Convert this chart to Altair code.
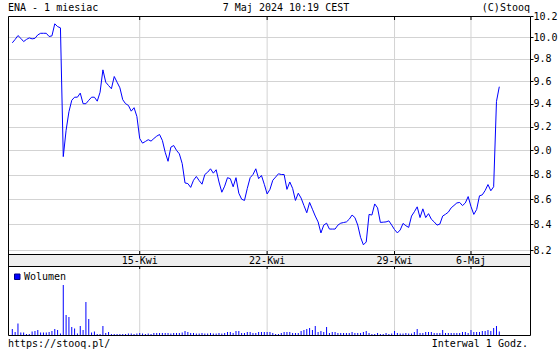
import altair as alt
import pandas as pd

# ---- data (hourly bars, index = bar number) ----
price = [
    9.948, 9.98, 10.016, 9.99, 9.96, 9.98, 9.994, 9.985, 9.99, 10.022,
    10.037, 10.037, 10.037, 10.007, 10.013, 10.126, 10.10, 10.088, 8.948, 9.17,
    9.33, 9.43, 9.457, 9.457, 9.493, 9.40, 9.40, 9.43, 9.457, 9.457,
    9.422, 9.501, 9.701, 9.59, 9.56, 9.532, 9.641, 9.59, 9.54, 9.435,
    9.40, 9.385, 9.335, 9.365, 9.289, 9.10, 9.061, 9.075, 9.09, 9.078,
    9.10, 9.12, 9.134, 9.084, 8.984, 8.909, 9.027, 9.041, 9.00, 8.971,
    8.89, 8.731, 8.726, 8.695, 8.753, 8.784, 8.75, 8.721, 8.80, 8.819,
    8.847, 8.811, 8.839, 8.739, 8.656, 8.705, 8.774, 8.766, 8.70, 8.774,
    8.648, 8.60, 8.59, 8.687, 8.774, 8.80, 8.847, 8.766, 8.792, 8.72,
    8.642, 8.679, 8.753, 8.779, 8.806, 8.80, 8.80, 8.679, 8.739, 8.687,
    8.59, 8.648, 8.609, 8.549, 8.492, 8.574, 8.52, 8.466, 8.42, 8.334,
    8.395, 8.41, 8.364, 8.364, 8.364, 8.395, 8.41, 8.415, 8.42, 8.441,
    8.474, 8.454, 8.395, 8.30, 8.242, 8.264, 8.479, 8.474, 8.562, 8.531,
    8.416, 8.418, 8.42, 8.428, 8.395, 8.36, 8.334, 8.357, 8.408, 8.39,
    8.377, 8.466, 8.50, 8.539, 8.454, 8.523, 8.454, 8.485, 8.441, 8.42,
    8.395, 8.403, 8.466, 8.48, 8.497, 8.531, 8.55, 8.57, 8.574, 8.549,
    8.57, 8.621, 8.541, 8.479, 8.518, 8.627, 8.635, 8.67, 8.718, 8.668,
    8.70, 9.42, 9.55,
]

volume = [
    6, 3, 11.5, 2.5, 2.5, 1, 1, 3.5, 4, 5,
    2.5, 2.5, 2.5, 3, 4, 6, 5, 1.5, 50, 20,
    18, 8, 6.5, 1.5, 9, 5, 33, 16, 2.5, 3.5,
    1, 1, 9, 2, 3, 1, 1, 1, 1, 1,
    1, 1.5, 1.5, 1, 1.5, 2, 1.5, 1, 1.5, 1,
    2, 2, 2, 2, 2, 2, 1.5, 2, 2, 2,
    2.5, 4, 3, 2, 2, 1.5, 1.5, 2, 1.5, 1.5,
    2, 1.5, 1.5, 2, 1.5, 2, 3, 3, 2, 4,
    4, 2, 2, 3, 3, 2, 2, 3, 3, 3,
    3, 3, 2, 1, 1, 2, 3, 3, 3, 2,
    2, 2, 4, 5, 6, 7, 5, 9, 3, 4,
    3, 8, 2, 3, 3, 2, 2, 2, 2, 2,
    3, 2, 2, 2, 3, 4, 2, 1, 1, 2,
    1, 1, 2, 1, 1.5, 4, 2, 1.5, 1.5, 2,
    1.5, 1.5, 3, 6, 2, 2, 3, 3, 3, 2,
    2, 2, 5, 2, 2, 2, 2, 2, 2, 3,
    3, 2, 5, 3, 3, 3, 4, 4, 5, 4,
    7, 9, 3.5,
]

day_index = [45, 90, 135, 162]
day_labels = ["15-Kwi", "22-Kwi", "29-Kwi", "6-Maj"]
price_ticks = [8.2, 8.4, 8.6, 8.8, 9.0, 9.2, 9.4, 9.6, 9.8, 10.0, 10.2]

title_left = "ENA - 1 miesiac"
title_mid = "7 Maj 2024 10:19 CEST"
title_right = "(C)Stooq"
foot_left = "https://stooq.pl/"
foot_right = "Interwal 1 Godz."
legend_label = "Wolumen"

# ---- layout constants ----
W, H = 522, 320
PH = 238          # price panel height
BAND_T, BAND_B = 238, 250
FONT = "DejaVu Sans Mono"
BLUE = "#0000ff"
GRID = "#d3d3d3"

df = pd.DataFrame({"i": list(range(len(price))), "price": price, "vol": volume})
days = pd.DataFrame({"i": day_index, "label": day_labels})
one = pd.DataFrame({"k": [0]})

xscale = alt.Scale(domain=[-1.52, 182.84], nice=False, zero=False)
X = alt.X("i:Q", scale=xscale, axis=None)

vgrid = alt.Chart(days).mark_rule(color=GRID, strokeWidth=1).encode(
    x=X, y=alt.value(0), y2=alt.value(H)
)

line = alt.Chart(df).mark_line(color=BLUE, strokeWidth=1).encode(
    x=X,
    y=alt.Y(
        "price:Q",
        scale=alt.Scale(type="log", domain=[8.172, 10.2], range=[PH, 0], nice=False, zero=False),
        axis=alt.Axis(
            orient="right", values=price_ticks, format=".1f", grid=True, gridColor=GRID,
            domain=False, tickSize=3, tickColor="black", labelFont=FONT, labelFontSize=10,
            labelColor="black", labelPadding=0, labelOverlap=False, labelBound=False,
            title=None,
        ),
    ),
)

vol = alt.Chart(df).mark_rule(color=BLUE, strokeWidth=1).encode(
    x=X,
    y=alt.Y("vol:Q", scale=alt.Scale(domain=[0, 69], range=[H - 1, BAND_B], nice=False), axis=None),
    y2=alt.datum(0),
)

band = alt.Chart(one).mark_rect(fill="#eeeeee", stroke="black", strokeWidth=1).encode(
    x=alt.value(0.5), x2=alt.value(W + 0.5), y=alt.value(BAND_T + 0.5), y2=alt.value(BAND_B + 0.5)
)

frame = alt.Chart(one).mark_rect(fillOpacity=0, stroke="black", strokeWidth=1).encode(
    x=alt.value(0.5), x2=alt.value(W + 0.5), y=alt.value(0.5), y2=alt.value(H - 0.5)
)

def ticks(y0, y1):
    return alt.Chart(days).mark_rule(color="black", strokeWidth=1).encode(
        x=X, y=alt.value(y0), y2=alt.value(y1)
    )

day_text = alt.Chart(days).mark_text(
    font=FONT, fontSize=10, color="black", align="center", baseline="alphabetic"
).encode(x=X, y=alt.value(248), text="label:N")

def label(txt, x, y, align):
    return alt.Chart(one).mark_text(
        text=txt, font=FONT, fontSize=10, color="black", align=align, baseline="alphabetic"
    ).encode(x=alt.value(x), y=alt.value(y))

legend_box = alt.Chart(one).mark_rect(fill=BLUE, stroke="#000080", strokeWidth=1).encode(
    x=alt.value(6.5), x2=alt.value(12), y=alt.value(258), y2=alt.value(263.5)
)

chart = alt.layer(
    vgrid,
    band,
    vol,
    line,
    frame,
    ticks(0, 4), ticks(BAND_T - 3, BAND_T), ticks(BAND_B, BAND_B + 3),
    day_text,
    legend_box,
    label(legend_label, 16, 264, "left"),
    label(title_left, 0, -5, "left"),
    label(title_mid, 278, -5, "center"),
    label(title_right, 522, -5, "right"),
    label(foot_left, 0, 331, "left"),
    label(foot_right, 520, 331, "right"),
).resolve_scale(y="independent").properties(
    width=W, height=H,
    padding={"left": 8, "top": 16, "right": 30, "bottom": 14},
    autosize=alt.AutoSizeParams(type="none"),
    background="white",
).configure_view(stroke=None)

chart.save("out.html", embed_options={"renderer": "svg", "actions": False})
